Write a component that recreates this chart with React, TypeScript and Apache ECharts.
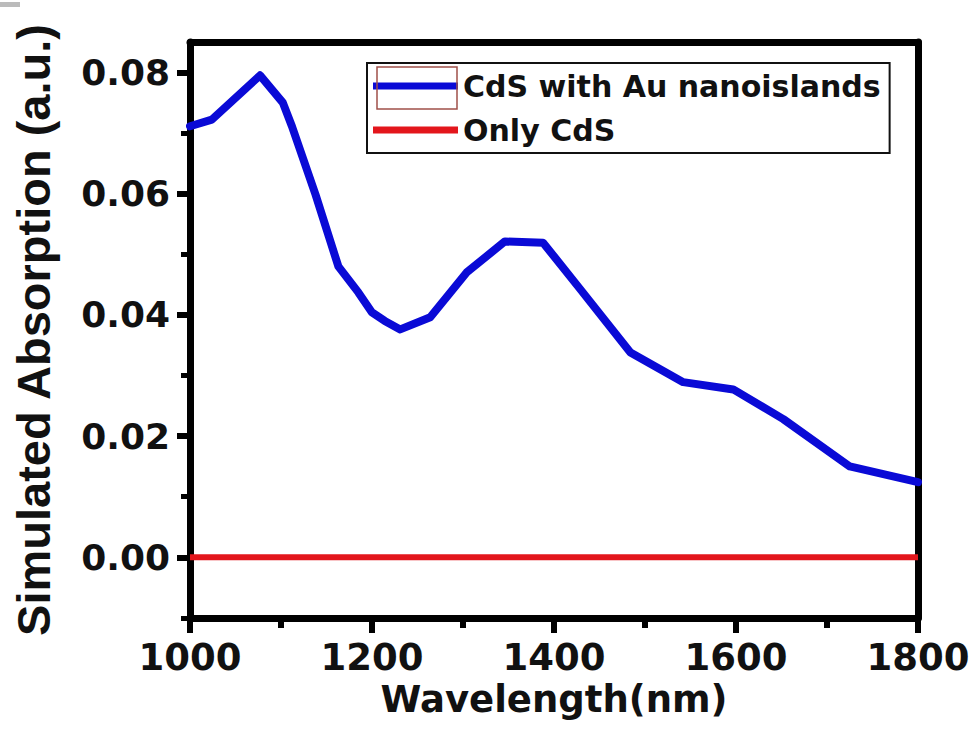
import React, { useEffect, useRef } from "react";
import * as echarts from "echarts";

const wavelengths = [1000, 1024, 1077, 1102, 1112, 1138, 1163, 1185, 1200, 1214, 1231, 1264, 1304, 1346, 1388, 1429, 1484, 1542, 1597, 1652, 1725, 1800];
const auValues = [0.0711, 0.0722, 0.0795, 0.0750, 0.0711, 0.0598, 0.0480, 0.0437, 0.0404, 0.0390, 0.0376, 0.0396, 0.0470, 0.0521, 0.0519, 0.0442, 0.0338, 0.0289, 0.0277, 0.0228, 0.0150, 0.0124];
const cdsWavelengths = [1000, 1800];
const cdsValues = [0, 0];
const yMajorTicks = [0, 0.02, 0.04, 0.06, 0.08];
const yMinorTicks = [-0.01, 0.01, 0.03, 0.05, 0.07];
const seriesNames = ["CdS with Au nanoislands", "Only CdS"];

export default function App() {
  const ref = useRef<HTMLDivElement>(null);
  useEffect(() => {
    if (!ref.current) return;
    const chart = echarts.init(ref.current, null, { renderer: "svg" });
    const tickFont = { fontFamily: "DejaVu Sans", fontWeight: "bold" as const, fontSize: 37, color: "#111" };
    const yBase = { type: "value" as const, min: -0.01, max: 0.085, splitLine: { show: false } };
    const frame = { color: "#000", width: 7 };
    chart.setOption({
      animation: false,
      backgroundColor: "#fff",
      grid: { left: 190, right: 56, top: 42, bottom: 131 },
      legend: {
        orient: "vertical",
        left: 367,
        top: 63,
        icon: "rect",
        itemWidth: 85,
        itemHeight: 7,
        itemGap: 14,
        padding: [8, 9, 8, 6],
        borderColor: "#111",
        borderWidth: 2,
        data: seriesNames,
        textStyle: { fontFamily: "DejaVu Sans", fontWeight: "bold", fontSize: 30, color: "#111" },
      },
      xAxis: [
        {
          type: "value",
          min: 1000,
          max: 1800,
          interval: 200,
          position: "bottom",
          name: "Wavelength(nm)",
          nameLocation: "middle",
          nameGap: 62,
          nameTextStyle: { fontFamily: "DejaVu Sans", fontWeight: "bold", fontSize: 37, color: "#111" },
          axisLine: { show: true, onZero: false, lineStyle: frame },
          axisTick: { show: true, length: 15, lineStyle: { color: "#000", width: 6 } },
          minorTick: { show: true, splitNumber: 2, length: 10, lineStyle: { color: "#000", width: 6 } },
          axisLabel: { ...tickFont, margin: 21, formatter: (v: number) => String(v) },
          splitLine: { show: false },
        },
        {
          type: "value",
          min: 1000,
          max: 1800,
          position: "top",
          axisLine: { show: true, onZero: false, lineStyle: frame },
          axisTick: { show: false },
          axisLabel: { show: false },
          splitLine: { show: false },
        },
      ],
      yAxis: [
        {
          ...yBase,
          position: "left",
          name: "Simulated Absorption (a.u.)",
          nameLocation: "middle",
          nameGap: 133,
          nameTextStyle: { fontFamily: "Liberation Sans", fontWeight: "bold", fontSize: 47, color: "#111" },
          axisLine: { show: true, onZero: false, lineStyle: frame },
          axisTick: { show: true, customValues: yMajorTicks, length: 13, lineStyle: { color: "#000", width: 6 } },
          axisLabel: { ...tickFont, fontSize: 36, margin: 20, customValues: yMajorTicks, formatter: (v: number) => v.toFixed(2) },
        },
        {
          ...yBase,
          position: "left",
          axisLine: { show: false, onZero: false },
          axisTick: { show: true, customValues: yMinorTicks, length: 9, lineStyle: { color: "#000", width: 5 } },
          axisLabel: { show: false },
        },
        {
          ...yBase,
          position: "right",
          axisLine: { show: true, onZero: false, lineStyle: frame },
          axisTick: { show: false },
          axisLabel: { show: false },
        },
      ],
      series: [
        {
          name: seriesNames[0],
          type: "line",
          xAxisIndex: 0,
          yAxisIndex: 0,
          symbol: "none",
          data: wavelengths.map((w, i) => [w, auValues[i]]),
          lineStyle: { color: "#0a0ad6", width: 8, join: "round", cap: "round" },
          itemStyle: { color: "#0a0ad6" },
          z: 3,
        },
        {
          name: seriesNames[1],
          type: "line",
          xAxisIndex: 0,
          yAxisIndex: 0,
          symbol: "none",
          data: cdsWavelengths.map((w, i) => [w, cdsValues[i]]),
          lineStyle: { color: "#e3161c", width: 6 },
          itemStyle: { color: "#e3161c" },
          z: 2,
        },
      ],
      graphic: [
        { type: "rect", shape: { x: 377, y: 67, width: 80, height: 42 }, style: { fill: "none", stroke: "#a0504a", lineWidth: 1.5 }, z: 100 },
        { type: "rect", shape: { x: 0, y: 2, width: 20, height: 5 }, style: { fill: "#bbbbbb" } },
      ],
    });
    return () => chart.dispose();
  }, []);
  return <div ref={ref} style={{ position: "fixed", left: 0, top: 0, width: 974, height: 749, background: "#fff" }} />;
}
